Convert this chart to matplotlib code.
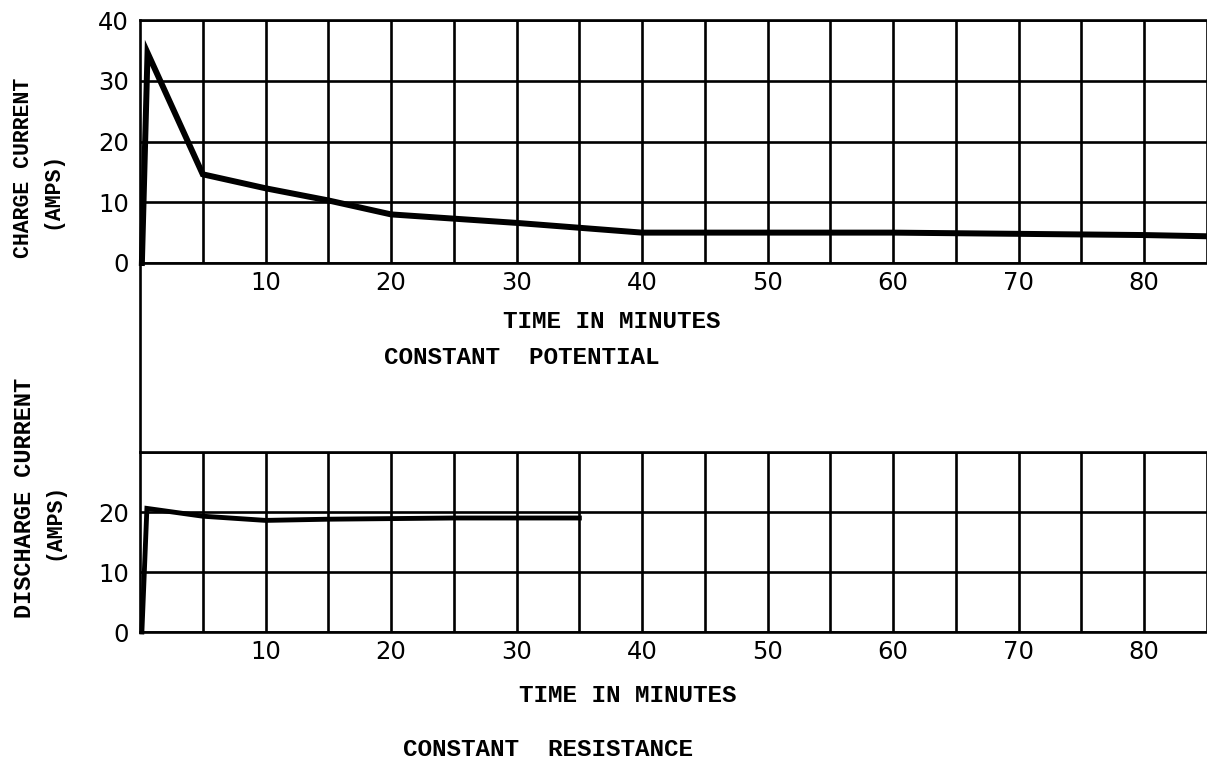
import matplotlib
matplotlib.use("Agg")
import matplotlib.pyplot as plt
from matplotlib.lines import Line2D

# ---- data ----
charge_time = [0.15, 0.6, 5, 10, 15, 20, 25, 30, 35, 40, 45, 50, 55, 60, 65, 70, 75, 80, 85]
charge_current = [0, 34.6, 14.6, 12.3, 10.3, 8.0, 7.3, 6.6, 5.8, 5.0, 5.0, 5.0, 5.0, 5.0, 4.9, 4.8, 4.7, 4.6, 4.4]

discharge_time = [0.15, 0.55, 5, 10, 15, 20, 25, 30, 35]
discharge_current = [0, 20.6, 19.3, 18.6, 18.8, 18.9, 19.0, 19.0, 19.0]

x_ticks = [10, 20, 30, 40, 50, 60, 70, 80]
top_y_ticks = [0, 10, 20, 30, 40]
bot_y_ticks = [0, 10, 20]

W, H = 1207, 767
fig = plt.figure(figsize=(W / 100, H / 100), dpi=100)
fig.patch.set_facecolor("white")

def frac_box(left, top, right, bottom):
    return [left / W, 1 - bottom / H, (right - left) / W, (bottom - top) / H]

mono = ["Liberation Mono", "DejaVu Sans Mono"]
GRID_LW = 1.9

def style_axes(ax, ylim, yticks):
    ax.set_xlim(0, 84.6)
    ax.set_ylim(*ylim)
    ax.set_xticks(x_ticks)
    ax.set_xticks([v for v in range(5, 86, 5) if v not in x_ticks], minor=True)
    ax.set_yticks(yticks)
    ax.set_yticks(list(range(0, ylim[1] + 1, 10)), minor=True)
    ax.grid(True, which="both", color="black", linewidth=GRID_LW)
    ax.tick_params(which="both", length=0)
    ax.tick_params(axis="x", pad=6, labelsize=17.5)
    ax.tick_params(axis="y", pad=8, labelsize=17.5)
    for s in ["top", "left", "bottom"]:
        ax.spines[s].set_linewidth(GRID_LW)
        ax.spines[s].set_color("black")
    ax.spines["right"].set_visible(False)
    ax.set_axisbelow(True)

ax1 = fig.add_axes(frac_box(140, 20, 1207, 263))
style_axes(ax1, (0, 40), top_y_ticks)
ax1.plot(charge_time, charge_current, color="black", linewidth=4.3,
         solid_joinstyle="miter", clip_on=False, zorder=5)

ax2 = fig.add_axes(frac_box(140, 452, 1207, 632))
style_axes(ax2, (0, 30), bot_y_ticks)
ax2.plot(discharge_time, discharge_current, color="black", linewidth=3.5,
         solid_joinstyle="miter", clip_on=False, zorder=5)

# continuous left edge between the panels
fig.add_artist(Line2D([140 / W, 140 / W], [1 - 263 / H, 1 - 452 / H],
                      color="black", linewidth=GRID_LW))

def ftext(x, y, s, **kw):
    fig.text(x / W, 1 - y / H, s, ha="center", va="center", family=mono,
             fontweight="bold", **kw)

# labels
ftext(612, 322, "TIME IN MINUTES", fontsize=17.5)
ftext(522, 358, "CONSTANT  POTENTIAL", fontsize=17.5)
ftext(628, 695, "TIME IN MINUTES", fontsize=17.5)
ftext(548, 750, "CONSTANT  RESISTANCE", fontsize=17.5)

ftext(24, 168, "CHARGE CURRENT", fontsize=15.5, rotation=90)
ftext(52, 190, "(AMPS)", fontsize=15.5, rotation=90)
ftext(25, 498, "DISCHARGE CURRENT", fontsize=17, rotation=90)
ftext(54, 521, "(AMPS)", fontsize=15.5, rotation=90)

fig.savefig("out.png", dpi=100, facecolor="white")
